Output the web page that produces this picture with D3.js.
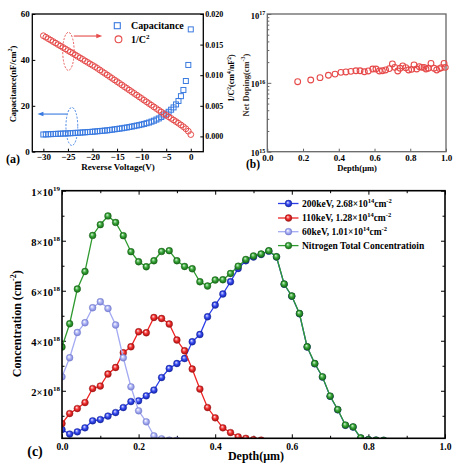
<!DOCTYPE html>
<html><head><meta charset="utf-8">
<script src="https://cdn.jsdelivr.net/npm/d3@7"></script>
<style>body{margin:0;background:#fff} svg{display:block}</style>
</head><body><svg id="c" width="459" height="467"></svg>
<script>
// ---------- DATA ----------
// Panel (a)
const voltage = [-30,-29.5,-29,-28.5,-28,-27.5,-27,-26.5,-26,-25.5,-25,-24.5,-24,-23.5,-23,-22.5,-22,-21.5,-21,-20.5,-20,-19.5,-19,-18.5,-18,-17.5,-17,-16.5,-16,-15.5,-15,-14.5,-14,-13.5,-13,-12.5,-12,-11.5,-11,-10.5,-10,-9.5,-9,-8.5,-8,-7.5,-7,-6.5,-6,-5.5,-5,-4.5,-4,-3.5,-3,-2.5,-2,-1.5,-1,-0.5,0];
const capacitance = [7.5,7.55,7.6,7.65,7.7,7.75,7.8,7.85,7.9,7.95,8.0,8.05,8.1,8.2,8.25,8.3,8.4,8.45,8.55,8.6,8.7,8.8,8.9,9.0,9.1,9.2,9.3,9.45,9.6,9.75,9.9,10.05,10.2,10.4,10.55,10.75,10.95,11.15,11.4,11.6,11.85,12.1,12.4,12.7,13.1,13.5,14.0,14.5,15.1,15.8,16.6,17.4,18.3,19.3,20.6,22.1,24.2,26.9,30.8,37.8,53.3];
const invC2 = [0.01645,0.01621,0.01597,0.01573,0.01549,0.01525,0.01501,0.01477,0.01453,0.01429,0.01404,0.01380,0.01356,0.01332,0.01307,0.01283,0.01259,0.01234,0.01210,0.01186,0.01162,0.01139,0.01112,0.01085,0.01058,0.01031,0.01004,0.00977,0.00949,0.00922,0.00895,0.00867,0.00840,0.00812,0.00785,0.00757,0.00730,0.00702,0.00675,0.00647,0.00620,0.00592,0.00565,0.00537,0.00510,0.00482,0.00455,0.00427,0.00400,0.00372,0.00346,0.00320,0.00294,0.00268,0.00242,0.00215,0.00187,0.00158,0.00125,0.00085,0.00030];
const aVoltTicks = [-30,-25,-20,-15,-10,-5,0];
const aCapTicks = [0,20,40,60];
const aInvTicks = [0,0.005,0.010,0.015,0.020];
// Panel (b)
const depthB = [0.170,0.243,0.295,0.342,0.379,0.412,0.440,0.468,0.496,0.519,0.543,0.565,0.590,0.608,0.627,0.644,0.662,0.683,0.700,0.713,0.730,0.743,0.758,0.775,0.791,0.808,0.821,0.836,0.851,0.864,0.877,0.888,0.901,0.916,0.933,0.948,0.963,0.974,0.989,0.996];
const netDoping = [1.04e16,1.10e16,1.19e16,1.29e16,1.34e16,1.42e16,1.44e16,1.47e16,1.50e16,1.50e16,1.45e16,1.49e16,1.59e16,1.59e16,1.49e16,1.50e16,1.54e16,1.61e16,1.88e16,1.68e16,1.49e16,1.63e16,1.76e16,1.66e16,1.54e16,1.57e16,1.82e16,1.59e16,1.72e16,1.68e16,1.68e16,1.59e16,1.63e16,1.92e16,1.63e16,1.54e16,1.61e16,1.66e16,1.92e16,1.68e16];
const bDepthTicks = [0,0.2,0.4,0.6,0.8,1.0];
const bDopTicks = [1e15,1e16,1e17];
// Panel (c)  (concentration in units of 1e18 cm^-2)
const depthC = [0,0.02,0.04,0.06,0.08,0.10,0.12,0.14,0.16,0.18,0.20,0.22,0.24,0.26,0.28,0.30,0.32,0.34,0.36,0.38,0.40,0.42,0.44,0.46,0.48,0.50,0.52,0.54,0.56,0.58,0.60,0.62,0.64,0.66,0.68,0.70,0.72,0.74,0.76,0.78,0.80,0.82,0.84];
const conc200 = [0.45,0.27,0.36,0.52,0.80,0.85,0.99,1.13,1.33,1.57,1.60,1.80,2.03,2.53,2.89,3.09,3.29,3.96,4.25,4.96,5.43,5.87,6.36,6.89,7.20,7.35,7.45,7.58,7.35,6.26,5.78,5.08,3.75,3.08,2.55,1.78,1.24,0.62,0.55,0.11,0.05,0.03,0.02];
const conc110 = [0.69,1.09,1.29,1.53,2.09,2.19,2.67,2.93,3.52,3.76,4.36,4.32,4.93,4.89,4.67,4.03,3.60,2.87,2.07,1.33,0.92,0.52,0.33,0.16,0.10,0.05,0.03];
const conc60 = [2.56,3.32,4.33,4.72,5.32,5.56,5.29,4.63,3.32,2.16,1.20,0.76,0.20,0.08,0.03,0.02];
const concTotal = [3.75,4.68,6.07,6.77,8.21,8.64,8.99,8.73,8.20,7.56,7.16,6.96,7.20,7.57,7.60,7.20,6.97,6.88,6.36,6.19,6.43,6.44,6.69,6.98,7.25,7.39,7.47,7.60,7.36,6.27,5.79,5.09,3.76,3.09,2.56,1.79,1.25,0.63,0.56,0.12,0.05,0.03,0.02];
const cDepthTicks = [0,0.2,0.4,0.6,0.8,1.0];
const cDepthMinor = [0.1,0.3,0.5,0.7,0.9];
const cConcTicks = [2,4,6,8,10];
const cConcMinor = [1,3,5,7,9];
const legendC = [
  [["200keV, 2.68×10",0],["14",1],["cm",0],["-2",1]],
  [["110keV, 1.28×10",0],["14",1],["cm",0],["-2",1]],
  [["60keV, 1.01×10",0],["14",1],["cm",0],["-2",1]],
  [["Nitrogen Total Concentratioin",0]]
];

// ---------- SETUP ----------
const FONT = '"Liberation Serif","Times New Roman",Times,serif';
const svg = d3.select("#c");
svg.append("rect").attr("width",459).attr("height",467).attr("fill","#fff");
const defs = svg.append("defs");

function supText(t, parts, base, sup){
  t.text(null).attr("font-family",FONT).attr("font-weight","bold");
  let up = false;
  parts.forEach(([s,isSup])=>{
    const ts = t.append("tspan").text(s).attr("font-size", isSup?sup:base);
    if (isSup && !up){ ts.attr("dy", -base*0.42); up = true; }
    else if (!isSup && up){ ts.attr("dy", base*0.42); up = false; }
  });
  return t;
}
function styleAxis(g, size, color){
  color = color || "#000";
  g.select(".domain").remove();
  g.selectAll(".tick line").attr("stroke",color).attr("stroke-width",1);
  g.selectAll(".tick text").attr("font-family",FONT).attr("font-weight","bold").attr("font-size",size).attr("fill","#000");
}
function label(x,y,parts,base,sup,rot,anchor,color){
  const t = svg.append("text").attr("transform",`translate(${x},${y}) rotate(${rot||0})`)
    .attr("text-anchor",anchor||"middle").attr("fill",color||"#000");
  supText(t, parts, base, sup);
  return t;
}

// ---------- PANEL (a) ----------
const xA = d3.scaleLinear([-32.25, 2.55], [32.3, 203.3]);
const yA = d3.scaleLinear([0, 60], [151.7, 14]);
const yA2 = d3.scaleLinear([-0.0025, 0.020], [151.7, 14]);
const gA = svg.append("g");
gA.append("g").attr("transform",`translate(0,${yA.range()[0]})`)
  .call(d3.axisBottom(xA).tickValues(aVoltTicks).tickFormat(d3.format("d")).tickSize(-3).tickPadding(1.5))
  .call(styleAxis, 9);
gA.append("g").attr("transform",`translate(${xA.range()[0]},0)`)
  .call(d3.axisLeft(yA).tickValues(aCapTicks).tickFormat(d3.format("d")).tickSize(-3).tickPadding(2.5))
  .call(styleAxis, 9);
gA.append("g").attr("transform",`translate(${xA.range()[1]},0)`)
  .call(d3.axisRight(yA2).tickValues(aInvTicks).tickFormat(d3.format(".3f")).tickSize(-3).tickPadding(2))
  .call(styleAxis, 8);
gA.append("rect").attr("x",xA.range()[0]).attr("y",yA.range()[1])
  .attr("width",xA.range()[1]-xA.range()[0]).attr("height",yA.range()[0]-yA.range()[1])
  .attr("fill","none").attr("stroke","#000").attr("stroke-width",1.3);

const CBLUE = "#3a7ae0", CRED = "#e64a4a";
const S = 5;
gA.append("g").selectAll("rect").data(voltage).join("rect")
  .attr("x",(v,i)=>xA(v)-S/2).attr("y",(v,i)=>yA(capacitance[i])-S/2)
  .attr("width",S).attr("height",S).attr("fill","none").attr("stroke",CBLUE).attr("stroke-width",1);
gA.append("g").selectAll("circle").data(voltage).join("circle")
  .attr("cx",v=>xA(v)).attr("cy",(v,i)=>yA2(invC2[i])).attr("r",2.9)
  .attr("fill","none").attr("stroke",CRED).attr("stroke-width",1);

// annotations
gA.append("ellipse").attr("cx",xA(-24.9)).attr("cy",yA2(0.0139)).attr("rx",5.7).attr("ry",19)
  .attr("fill","none").attr("stroke",CRED).attr("stroke-width",0.9).attr("stroke-dasharray","2,1.5");
gA.append("ellipse").attr("cx",xA(-24.2)).attr("cy",yA(11.0)).attr("rx",5.9).attr("ry",19)
  .attr("fill","none").attr("stroke",CBLUE).attr("stroke-width",0.9).attr("stroke-dasharray","2,1.5");
{
  const y1 = yA2(0.0164), xs = xA(-23.8), xe = xA(-18.0);
  gA.append("line").attr("x1",xs).attr("x2",xe-4).attr("y1",y1).attr("y2",y1).attr("stroke",CRED).attr("stroke-width",1.1);
  gA.append("path").attr("d",`M${xe},${y1} L${xe-6},${y1-2.3} L${xe-6},${y1+2.3} Z`).attr("fill",CRED);
  const y2 = yA(16.4), xs2 = xA(-25.1), xe2 = xA(-31.2);
  gA.append("line").attr("x1",xs2).attr("x2",xe2+4).attr("y1",y2).attr("y2",y2).attr("stroke",CBLUE).attr("stroke-width",1.1);
  gA.append("path").attr("d",`M${xe2},${y2} L${xe2+6},${y2-2.3} L${xe2+6},${y2+2.3} Z`).attr("fill",CBLUE);
}
// legend (a)
gA.append("rect").attr("x",117.3-3).attr("y",25.7-3).attr("width",6).attr("height",6).attr("fill","none").attr("stroke",CBLUE).attr("stroke-width",1.1);
gA.append("circle").attr("cx",118.5).attr("cy",39.3).attr("r",3.4).attr("fill","none").attr("stroke",CRED).attr("stroke-width",1.1);
label(131,29.3,[["Capacitance",0]],10,7,0,"start");
label(131,42.8,[["1/C",0],["2",1]],10,7,0,"start");

label(118,169.5,[["Reverse Voltage(V)",0]],9,6,0,"middle");
label(15.5,84,[["Capacitance(nF/cm",0],["2",1],[")",0]],8.5,6,-90,"middle");
label(234,78,[["1/C",0],["2",1],["(cm",0],["4",1],["/nF",0],["2",1],[")",0]],8,5.5,-90,"middle");
label(13,162.5,[["(a)",0]],12,8,0,"middle");

// ---------- PANEL (b) ----------
const xB = d3.scaleLinear([0,1],[267.3,446]);
const yB = d3.scaleLog([1e15,1e17],[151.7,14]);
const GRAY = "#666";
const gB = svg.append("g");
gB.append("g").attr("transform",`translate(0,${yB.range()[0]})`)
  .call(d3.axisBottom(xB).tickValues(bDepthTicks).tickFormat(d3.format(".1f")).tickSize(-3).tickPadding(2.5))
  .call(styleAxis, 9, GRAY);
const axBL = gB.append("g").attr("transform",`translate(${xB.range()[0]},0)`)
  .call(d3.axisLeft(yB).tickValues(bDopTicks).tickSize(-4).tickPadding(2))
  .call(styleAxis, 9, GRAY);
axBL.selectAll(".tick text").each(function(d){
  const e = Math.round(Math.log10(d));
  supText(d3.select(this).attr("dy","0.45em"), [["10",0],[String(e),1]], 8.5, 6);
});
const bMinor = [];
[1e15,1e16].forEach(b=>{ for(let k=2;k<10;k++) bMinor.push(b*k); });
gB.append("g").attr("transform",`translate(${xB.range()[0]},0)`)
  .call(d3.axisLeft(yB).tickValues(bMinor).tickFormat("").tickSize(-2))
  .call(styleAxis, 9, GRAY);
gB.append("rect").attr("x",xB.range()[0]).attr("y",yB.range()[1])
  .attr("width",xB.range()[1]-xB.range()[0]).attr("height",yB.range()[0]-yB.range()[1])
  .attr("fill","none").attr("stroke",GRAY).attr("stroke-width",1.3);
gB.append("g").selectAll("circle").data(depthB).join("circle")
  .attr("cx",d=>xB(d)).attr("cy",(d,i)=>yB(netDoping[i])).attr("r",2.9)
  .attr("fill","none").attr("stroke",CRED).attr("stroke-width",1.1);
label(357,171,[["Depth(μm)",0]],8.5,6,0,"middle");
label(248.5,85,[["Net Doping(cm",0],["-3",1],[")",0]],8.5,6,-90,"middle","#3a3128");
label(253,167.5,[["(b)",0]],11.5,8,0,"middle");

// ---------- PANEL (c) ----------
const xC = d3.scaleLinear([0,1],[62,445]);
const yC = d3.scaleLinear([0.1,10],[438.3,190.7]);
const gC = svg.append("g");
gC.append("g").attr("transform",`translate(0,${yC.range()[0]})`)
  .call(d3.axisBottom(xC).tickValues(cDepthTicks).tickFormat(d3.format(".1f")).tickSize(-4).tickPadding(5))
  .call(styleAxis, 9.5);
gC.append("g").attr("transform",`translate(0,${yC.range()[0]})`)
  .call(d3.axisBottom(xC).tickValues(cDepthMinor).tickFormat("").tickSize(-2.5)).call(styleAxis, 9.5);
gC.append("g").attr("transform",`translate(0,${yC.range()[1]})`)
  .call(d3.axisTop(xC).tickValues(cDepthTicks).tickFormat("").tickSize(-4)).call(styleAxis, 9.5);
gC.append("g").attr("transform",`translate(0,${yC.range()[1]})`)
  .call(d3.axisTop(xC).tickValues(cDepthMinor).tickFormat("").tickSize(-2.5)).call(styleAxis, 9.5);
const axCL = gC.append("g").attr("transform",`translate(${xC.range()[0]},0)`)
  .call(d3.axisLeft(yC).tickValues(cConcTicks).tickSize(-4).tickPadding(2))
  .call(styleAxis, 10);
axCL.selectAll(".tick text").each(function(d){
  const parts = d===10 ? [["1×10",0],["19",1]] : [[d+"×10",0],["18",1]];
  supText(d3.select(this).attr("dy","0.45em"), parts, 10.5, 7);
});
gC.append("g").attr("transform",`translate(${xC.range()[0]},0)`)
  .call(d3.axisLeft(yC).tickValues(cConcMinor).tickFormat("").tickSize(-2.5)).call(styleAxis, 10);
gC.append("g").attr("transform",`translate(${xC.range()[1]},0)`)
  .call(d3.axisRight(yC).tickValues(cConcTicks).tickFormat("").tickSize(-4)).call(styleAxis, 10);
gC.append("g").attr("transform",`translate(${xC.range()[1]},0)`)
  .call(d3.axisRight(yC).tickValues(cConcMinor).tickFormat("").tickSize(-2.5)).call(styleAxis, 10);

defs.append("clipPath").attr("id","clipC").append("rect")
  .attr("x",xC.range()[0]).attr("y",yC.range()[1])
  .attr("width",xC.range()[1]-xC.range()[0]).attr("height",yC.range()[0]-yC.range()[1]);

function sphere(id, light, mid, dark){
  const g = defs.append("radialGradient").attr("id",id).attr("cx","50%").attr("cy","50%").attr("r","55%").attr("fx","38%").attr("fy","32%");
  g.append("stop").attr("offset","0%").attr("stop-color",light);
  g.append("stop").attr("offset","50%").attr("stop-color",mid);
  g.append("stop").attr("offset","100%").attr("stop-color",dark);
}
const seriesC = [
  {id:"gB", vals:conc200, line:"#2b3de6", light:"#dfe3ff", mid:"#3447ee", dark:"#10209a"},
  {id:"gR", vals:conc110, line:"#ee2424", light:"#ffe0e0", mid:"#f02a2a", dark:"#9a1010"},
  {id:"gL", vals:conc60,  line:"#a4abf2", light:"#ffffff", mid:"#aab1f4", dark:"#7279cc"},
  {id:"gG", vals:concTotal,line:"#2f9a2f", light:"#d8f5d8", mid:"#33a233", dark:"#155f15"}
];
seriesC.forEach(s=>sphere(s.id, s.light, s.mid, s.dark));
const plotC = gC.append("g").attr("clip-path","url(#clipC)");
const lineGen = d3.line().x(d=>xC(d[0])).y(d=>yC(d[1]));
const R = 3.4;
seriesC.forEach(s=>{
  const pts = s.vals.map((v,i)=>[depthC[i], v]);
  plotC.append("path").datum(pts).attr("d",lineGen).attr("fill","none").attr("stroke",s.line).attr("stroke-width",1.3);
  plotC.append("g").selectAll("circle").data(pts).join("circle")
    .attr("cx",d=>xC(d[0])).attr("cy",d=>yC(d[1])).attr("r",R)
    .attr("fill",`url(#${s.id})`).attr("stroke",s.dark).attr("stroke-width",0.4);
});
gC.append("rect").attr("x",xC.range()[0]).attr("y",yC.range()[1])
  .attr("width",xC.range()[1]-xC.range()[0]).attr("height",yC.range()[0]-yC.range()[1])
  .attr("fill","none").attr("stroke","#000").attr("stroke-width",1.6);

// legend (c)
const legY = [203.5, 218, 231.7, 245.6];
seriesC.forEach((s,i)=>{
  const y = legY[i];
  gC.append("line").attr("x1",278).attr("x2",298.5).attr("y1",y).attr("y2",y).attr("stroke",s.line).attr("stroke-width",1.3);
  gC.append("circle").attr("cx",288.5).attr("cy",y).attr("r",R).attr("fill",`url(#${s.id})`).attr("stroke",s.dark).attr("stroke-width",0.4);
  label(302, y+3.3, legendC[i], 9.5, 6.5, 0, "start");
});

label(256,459.5,[["Depth(μm)",0]],12,8,0,"middle");
label(21,323.7,[["Concentration (cm",0],["-2",1],[")",0]],12,8,-90,"middle");
label(35,456,[["(c)",0]],14,9,0,"middle");
</script></body></html>
